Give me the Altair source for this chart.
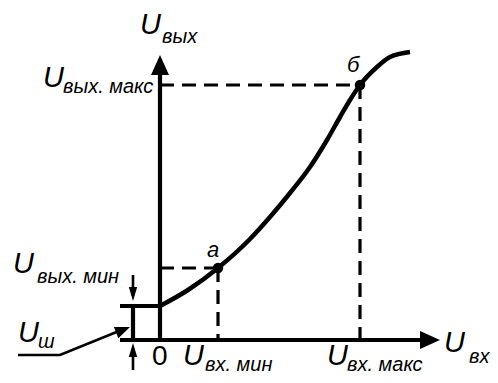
import altair as alt
import pandas as pd

# ---- data (schematic coordinates: origin at axes origin) ----
curve_x = [0, 28, 58, 90, 110, 130, 150, 167, 180, 190, 200, 217, 230, 250]
curve_y = [34, 50, 72, 101, 123, 147, 173, 200, 223, 240, 255, 273, 283, 288]

u_noise = 34
pt_a = (58, 72)
pt_b = (200, 255)

x_axis_end = 262
y_axis_end = 268
x_tip = 280
y_tip = 285
bracket_x = -27
bracket_left = -40

# thick solid segments: (id, x list, y list)
thick_ids = ["yaxis", "xaxis", "noise_top", "noise_side"]
thick_xs = [[0, 0], [bracket_left, x_axis_end], [bracket_left, 0], [bracket_x, bracket_x]]
thick_ys = [[0, y_axis_end], [0, 0], [u_noise, u_noise], [0, u_noise]]

thin_ids = ["down", "up", "leader"]
thin_xs = [[bracket_x, bracket_x], [bracket_x, bracket_x], [-142, -100, -36]]
thin_ys = [[65, 44], [-30, -8], [-15, -15, 11]]

dash_ids = ["a_h", "a_v", "b_h", "b_v"]
dash_xs = [[0, pt_a[0]], [pt_a[0], pt_a[0]], [0, pt_b[0]], [pt_b[0], pt_b[0]]]
dash_ys = [[pt_a[1], pt_a[1]], [pt_a[1], 0], [pt_b[1], pt_b[1]], [pt_b[1], 0]]

# arrow heads
big_head_x = [0, x_tip]
big_head_y = [y_tip, 0]
big_head_ang = [0, 90]
small_head_x = [bracket_x, bracket_x]
small_head_y = [39, -3]
small_head_ang = [180, 0]
lead_head_x = [-30]
lead_head_y = [13]
lead_head_ang = [68]

# texts
u_texts = ["U", "U", "U", "U", "U", "U", "U"]
u_x = [-20, -117, -147, -142, 23, 167, 284]
u_y = [306, 253, 67, -2, -25, -25, -12]
sub_texts = ["вых", "вых. макс", "вых. мин", "ш", "вх. мин", "вх. макс", "вх"]
sub_x = [2, -97, -123, -122, 45, 187, 309]
sub_y = [297, 247, 57, -8, -31, -31, -23]
pt_labels = ["а", "б"]
pt_lab_x = [47, 187]
pt_lab_y = [83, 268]
zero_label = ["0"]
zero_x = [-8]
zero_y = [-25]

X_DOM = [-152, 330]
Y_DOM = [-35, 332]


def seg_df(ids, xs, ys):
    rows = []
    for i, xl, yl in zip(ids, xs, ys):
        for k, (xx, yy) in enumerate(zip(xl, yl)):
            rows.append({"id": i, "x": xx, "y": yy, "o": k})
    return pd.DataFrame(rows)


xs = alt.Scale(domain=X_DOM, nice=False, zero=False)
ys = alt.Scale(domain=Y_DOM, nice=False, zero=False)
X = lambda: alt.X("x:Q", scale=xs, axis=None)
Y = lambda: alt.Y("y:Q", scale=ys, axis=None)

curve = alt.Chart(pd.DataFrame({"x": curve_x, "y": curve_y})).mark_line(
    color="black", strokeWidth=4.5, interpolate="monotone", strokeCap="butt"
).encode(x=X(), y=Y())

thick = alt.Chart(seg_df(thick_ids, thick_xs, thick_ys)).mark_line(
    color="black", strokeWidth=4.2, strokeCap="butt"
).encode(x=X(), y=Y(), detail="id:N", order="o:Q")

thin = alt.Chart(seg_df(thin_ids, thin_xs, thin_ys)).mark_line(
    color="black", strokeWidth=2.6, strokeCap="butt"
).encode(x=X(), y=Y(), detail="id:N", order="o:Q")

dashed = alt.Chart(seg_df(dash_ids, dash_xs, dash_ys)).mark_line(
    color="black", strokeWidth=3.2, strokeDash=[14, 8], strokeCap="butt"
).encode(x=X(), y=Y(), detail="id:N", order="o:Q")

big_heads = alt.Chart(pd.DataFrame({"x": big_head_x, "y": big_head_y, "a": big_head_ang})).mark_point(
    shape="M0,0L-0.9,2L0.9,2Z", filled=True, color="black", size=400, opacity=1
).encode(x=X(), y=Y(), angle=alt.Angle("a:Q", scale=None))

small_heads = alt.Chart(pd.DataFrame({"x": small_head_x, "y": small_head_y, "a": small_head_ang})).mark_point(
    shape="M0,0L-0.6,2L0.6,2Z", filled=True, color="black", size=196, opacity=1
).encode(x=X(), y=Y(), angle=alt.Angle("a:Q", scale=None))

lead_head = alt.Chart(pd.DataFrame({"x": lead_head_x, "y": lead_head_y, "a": lead_head_ang})).mark_point(
    shape="M0,0L-0.8,2L0.8,2Z", filled=True, color="black", size=225, opacity=1
).encode(x=X(), y=Y(), angle=alt.Angle("a:Q", scale=None))

dots = alt.Chart(pd.DataFrame({"x": [pt_a[0], pt_b[0]], "y": [pt_a[1], pt_b[1]]})).mark_circle(
    color="black", size=110, opacity=1
).encode(x=X(), y=Y())

FONT = "Liberation Sans"
u_lbl = alt.Chart(pd.DataFrame({"x": u_x, "y": u_y, "t": u_texts})).mark_text(
    font=FONT, fontStyle="italic", fontSize=29, align="left", baseline="alphabetic", color="black"
).encode(x=X(), y=Y(), text="t:N")

sub_lbl = alt.Chart(pd.DataFrame({"x": sub_x, "y": sub_y, "t": sub_texts})).mark_text(
    font=FONT, fontStyle="italic", fontSize=20, align="left", baseline="alphabetic", color="black"
).encode(x=X(), y=Y(), text="t:N")

pt_lbl = alt.Chart(pd.DataFrame({"x": pt_lab_x, "y": pt_lab_y, "t": pt_labels})).mark_text(
    font=FONT, fontStyle="italic", fontSize=22, align="left", baseline="alphabetic", color="black"
).encode(x=X(), y=Y(), text="t:N")

zero_lbl = alt.Chart(pd.DataFrame({"x": zero_x, "y": zero_y, "t": zero_label})).mark_text(
    font=FONT, fontSize=28, align="left", baseline="alphabetic", color="black"
).encode(x=X(), y=Y(), text="t:N")

chart = alt.layer(
    dashed, thick, thin, curve, big_heads, small_heads, lead_head, dots,
    u_lbl, sub_lbl, pt_lbl, zero_lbl
).properties(
    width=482, height=367, autosize=alt.AutoSizeParams(type="none"), padding=0,
    background="white"
).configure_view(stroke=None)

chart.save("out.html", embed_options={"renderer": "svg", "actions": False})
